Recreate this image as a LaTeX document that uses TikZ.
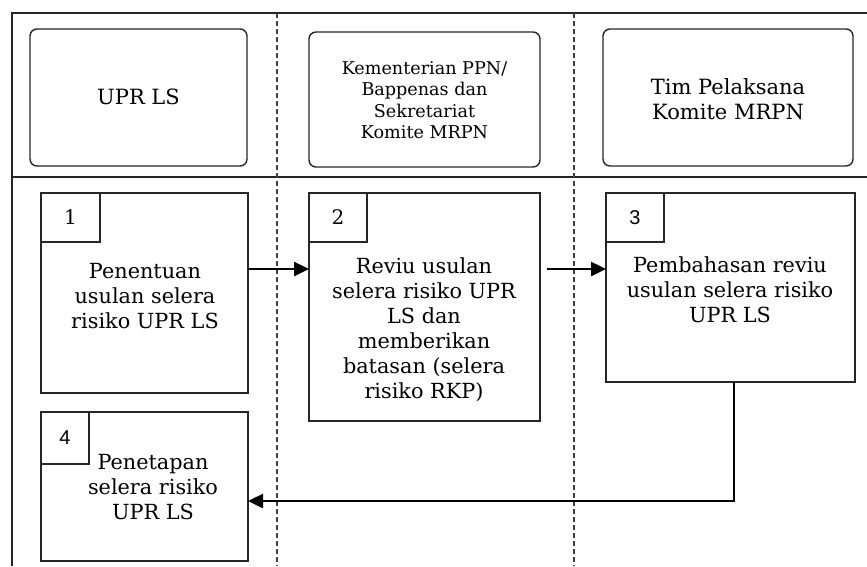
\documentclass[tikz,border=0pt]{standalone}
\usepackage{fontspec}
\setmainfont{DejaVu Serif}
\setsansfont{Liberation Sans}
\usetikzlibrary{arrows.meta}
\begin{document}
\begin{tikzpicture}[x=1pt,y=-1pt,
  frame/.style={line width=1.4pt, draw=black!85},
  lane/.style={line width=1.1pt, draw=black!75, dash pattern=on 5pt off 3pt},
  hdr/.style={draw=black!85, line width=1.4pt, rounded corners=7pt, inner sep=0pt, outer sep=0pt},
  stepbox/.style={draw=black!85, line width=1.4pt, inner sep=0pt, outer sep=0pt},
  numbox/.style={stepbox, font=\fontsize{20}{22}\selectfont},
  txt/.style={align=center, font=\fontsize{20.8}{25}\selectfont, inner sep=0pt},
  hdrtxt/.style={align=center, font=\fontsize{21}{25}\selectfont, inner sep=0pt},
  smalltxt/.style={align=center, font=\fontsize{17.6}{21.5}\selectfont, inner sep=0pt},
  arr/.style={line width=2.5pt, draw=black, -{Triangle[length=15pt,width=14pt]}}
]
\useasboundingbox (0,0) rectangle (867,566);
% frame
\coordinate (tl) at (12,13);
\coordinate (tr) at (867,13);
\coordinate (bl) at (12,566);
\coordinate (ml) at (12,177);
\coordinate (mr) at (867,177);
\draw[frame] (tr) -- (tl) -- (bl);
\draw[frame] (ml) -- (mr);
% lanes
\coordinate (d1t) at (277,13);
\coordinate (d1b) at (277,566);
\coordinate (d2t) at (574,13);
\coordinate (d2b) at (574,566);
\draw[lane] (d1t) -- (d1b);
\draw[lane] (d2t) -- (d2b);
% headers
\node[hdr, minimum width=217pt, minimum height=137pt] (h1) at (138.5,97.5) {};
\node[hdrtxt] (h1t) at (138.5,97) {UPR LS};
\node[hdr, minimum width=231pt, minimum height=135pt] (h2) at (424.5,99.5) {};
\node[smalltxt] (h2t) at (424.5,100) {Kementerian PPN/\\Bappenas dan\\Sekretariat\\Komite MRPN};
\node[hdr, minimum width=250pt, minimum height=137pt] (h3) at (728,97.5) {};
\node[hdrtxt] (h3t) at (728,99.5) {Tim Pelaksana\\Komite MRPN};
% steps
\node[stepbox, minimum width=207pt, minimum height=200pt] (s1) at (144.5,293) {};
\node[numbox, minimum width=59pt, minimum height=49pt] (n1) at (70.5,217.5) {1};
\node[txt] (t1) at (145,296) {Penentuan\\usulan selera\\risiko UPR LS};
\node[stepbox, minimum width=231pt, minimum height=228pt] (s2) at (424.5,307) {};
\node[numbox, minimum width=58pt, minimum height=49pt] (n2) at (338,217.5) {2};
\node[txt] (t2) at (424,329.5) {Reviu usulan\\selera risiko UPR\\LS dan\\memberikan\\batasan (selera\\risiko RKP)};
\node[stepbox, minimum width=249pt, minimum height=189pt] (s3) at (730.5,287.5) {};
\node[numbox, minimum width=58pt, minimum height=49pt, font=\sffamily\fontsize{20}{22}\selectfont] (n3) at (635,217.5) {3};
\node[txt] (t3) at (730,290) {Pembahasan reviu\\usulan selera risiko\\UPR LS};
\node[stepbox, minimum width=207pt, minimum height=149pt] (s4) at (144.5,486.5) {};
\node[numbox, minimum width=48pt, minimum height=52pt, font=\sffamily\fontsize{20}{22}\selectfont] (n4) at (65,438) {4};
\node[txt] (t4) at (153,487) {Penetapan\\selera risiko\\UPR LS};
% connectors
\coordinate (ya) at (0,269);
\coordinate (yb) at (0,501);
\coordinate (xc) at (734,0);
\draw[arr] (s1.east |- ya) -- (s2.west |- ya);
\draw[arr, shorten <=7pt] (s2.east |- ya) -- (s3.west |- ya);
\draw[arr] (s3.south -| xc) |- (s4.east |- yb);
\end{tikzpicture}
\end{document}
